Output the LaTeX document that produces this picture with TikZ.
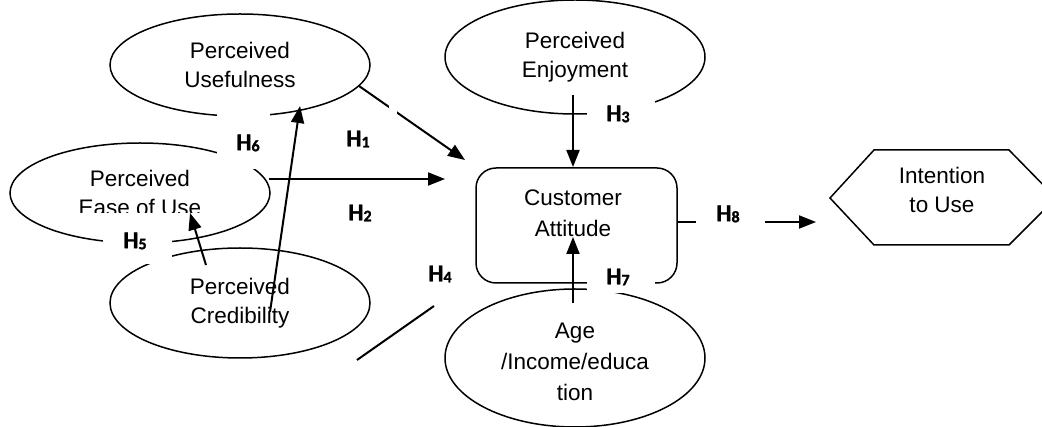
\documentclass[tikz,border=0pt]{standalone}
\usepackage{fontspec}
\setmainfont{Liberation Sans}
\newfontfamily\labfont{Carlito}[BoldFont={Carlito Bold}, BoldFeatures={FakeBold=1.5}]
\usetikzlibrary{shapes.geometric,arrows.meta}
\newcommand\hlab[1]{H\raisebox{-1pt}{\fontsize{16}{16}\selectfont #1}}
\begin{document}
\begin{tikzpicture}[x=1pt,y=-1pt,
  txt/.style={font=\fontsize{22.5}{29}\selectfont, align=center, inner sep=0pt},
  oval/.style={ellipse, draw, line width=1.5pt, inner sep=0pt, txt},
  conn/.style={line width=2pt, -{Triangle[length=17pt,width=13pt]}},
  stub/.style={line width=2pt},
  hl/.style={inner sep=0pt, font=\labfont\bfseries\fontsize{24}{24}\selectfont},
  occ/.style={fill=white, draw=none}
]
\useasboundingbox (0,0) rectangle (1042,427);
\clip (0,0) rectangle (1042,427);

% shapes
\node[oval, minimum width=260, minimum height=102] (pu) at (240,65) {Perceived\\Usefulness};
\node[oval, minimum width=260, minimum height=100] (peou) at (140,193) {Perceived\\Ease of Use};
\node[oval, minimum width=260, minimum height=110] (pc) at (240,303) {Perceived\\Credibility};
\node[oval, minimum width=260, minimum height=114] (pe) at (575,57) {Perceived\\Enjoyment};
\node[ellipse, draw, line width=1.5pt, inner sep=0pt, minimum width=260, minimum height=138] (age) at (575,358) {};
\node[txt, font=\fontsize{22.5}{31}\selectfont] (agetext) at (575,362) {Age\\/Income/educa\\tion};
\node[draw, rounded corners=20, line width=1.5pt, minimum width=201, minimum height=115, inner sep=0pt] (ca) at (576.5,225.5) {};
\node[txt, font=\fontsize{22.5}{31}\selectfont] (catext) at (573,213) {Customer\\Attitude};

% hexagon
\node[txt] (itu) at (942,190) {Intention\\to Use};
\coordinate (hxL) at (830,198);
\coordinate (hxTL) at (874,150);
\coordinate (hxTR) at (1009,150);
\coordinate (hxR) at (1056,198);
\coordinate (hxBR) at (1009,245);
\coordinate (hxBL) at (874,245);
\draw[line width=1.5pt, line join=miter] (hxL) -- (hxTL) -- (hxTR) -- (hxR) -- (hxBR) -- (hxBL) -- cycle;

% connector end points
\coordinate (pcA) at (270,312);
\coordinate (puB) at (300,106);
\coordinate (pcC) at (206,265);
\coordinate (peouD) at (190,213);
\coordinate (peouE) at (269,179);
\coordinate (caE) at (445,179);
\coordinate (puF) at (359,86);
\coordinate (caF) at (465,160);
\coordinate (peG) at (573,95);
\coordinate (caG) at (573,167);
\coordinate (ageH) at (573,303);
\coordinate (caH) at (573,237);
\coordinate (caI) at (677,222);
\coordinate (ituI) at (816,222);
\coordinate (h4a) at (357,360);
\coordinate (h4b) at (434,306);

% occluding label boxes (white)
\fill[occ] (217,108) rectangle (270,169);
\fill[occ] (103,228) rectangle (172,264);
\fill[occ] (587,93) rectangle (655,130);
\fill[occ] (587,268) rectangle (655,293);
\fill[occ] (80,213.5) rectangle (205,232);

% connectors
\draw[conn] (pcA) -- (puB);
\draw[conn] (pcC) -- (peouD);
\draw[conn] (peouE) -- (caE);
\draw[conn] (puF) -- (caF);
\draw[conn] (peG) -- (caG);
\draw[conn] (ageH) -- (caH);
\draw[conn] (caI) -- (ituI);
\draw[stub] (h4a) -- (h4b);
\fill[occ] (696,200) rectangle (765,240);
\fill[occ] (389,105) rectangle (397,114);

% labels
\node[hl] (l6) at (248,143) {\hlab{6}};
\node[hl] (l1) at (358,139) {\hlab{1}};
\node[hl] (l2) at (360,213) {\hlab{2}};
\node[hl] (l5) at (135,241) {\hlab{5}};
\node[hl] (l4) at (440,274) {\hlab{4}};
\node[hl] (l3) at (618,114) {\hlab{3}};
\node[hl] (l7) at (618,277) {\hlab{7}};
\node[hl] (l8) at (728,214) {\hlab{8}};
\end{tikzpicture}
\end{document}
